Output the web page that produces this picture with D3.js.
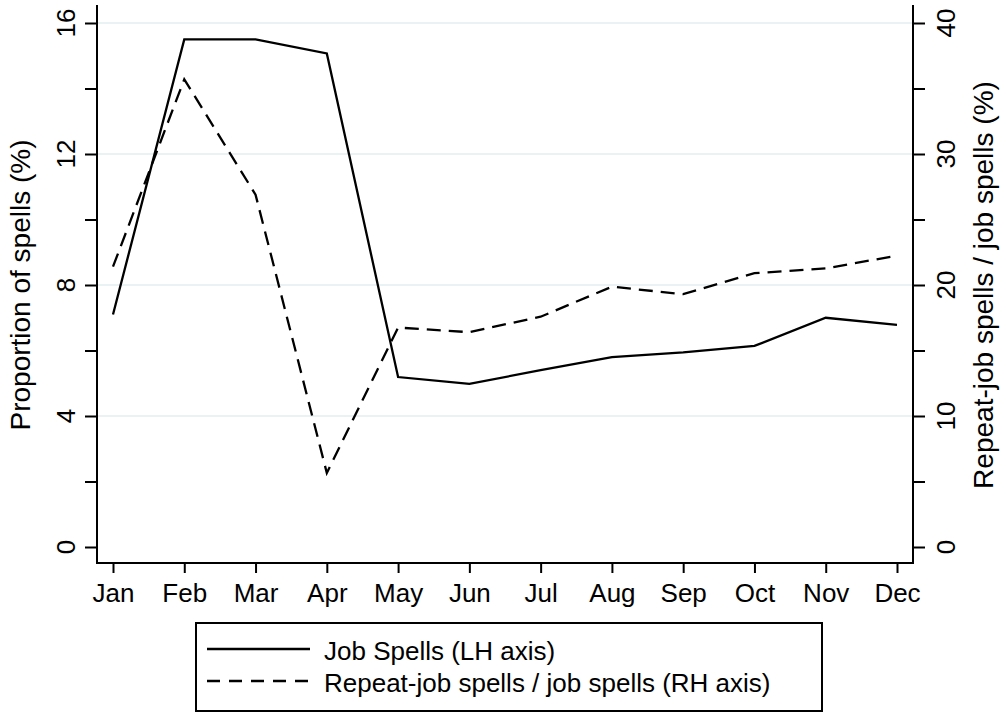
<!DOCTYPE html>
<html>
<head>
<meta charset="utf-8">
<script src="https://cdn.jsdelivr.net/npm/d3@7"></script>
<style>
  body { margin: 0; background: #fff; }
  text { font-family: "Liberation Sans", Arial, sans-serif; fill: #000; }
</style>
</head>
<body>
<div id="chart"></div>
<script>
// data
var months = ["Jan", "Feb", "Mar", "Apr", "May", "Jun", "Jul", "Aug", "Sep", "Oct", "Nov", "Dec"];
var jobSpells = [7.1, 15.5, 15.5, 15.07, 5.19, 4.98, 5.4, 5.8, 5.94, 6.14, 7.0, 6.78];
var repeatShare = [21.4, 35.7, 26.9, 5.65, 16.75, 16.4, 17.58, 19.87, 19.3, 20.9, 21.27, 22.24];
var leftTicks = [0, 4, 8, 12, 16];
var leftMinor = [2, 6, 10, 14];
var rightTicks = [0, 10, 20, 30, 40];
var rightMinor = [5, 15, 25, 35];
var gridTicks = [4, 8, 12, 16];

var svgWidth = 1006;
var svgHeight = 713;

// plot frame
var frame = { left: 97, right: 913, top: 5, bottom: 563 };

var svg = d3.select("#chart")
    .append("svg")
    .attr("width", svgWidth)
    .attr("height", svgHeight);

var x = d3.scalePoint()
    .domain(months)
    .range([113, 897]);

var yLeft = d3.scaleLinear()
    .domain([0, 16])
    .range([547, 23]);

var yRight = d3.scaleLinear()
    .domain([0, 40])
    .range([547, 23]);

var fontSize = 26;
var titleSize = 28;

// grid lines
svg.append("g")
    .selectAll("line")
    .data(gridTicks)
    .enter()
    .append("line")
    .attr("x1", frame.left)
    .attr("x2", frame.right)
    .attr("y1", d => yLeft(d))
    .attr("y2", d => yLeft(d))
    .attr("stroke", "#e4eef0")
    .attr("stroke-width", 1.6);

// left axis
var leftAxis = svg.append("g")
    .attr("transform", `translate(${frame.left}, 0)`)
    .call(d3.axisLeft(yLeft).tickValues(leftTicks.concat(leftMinor)).tickSize(12).tickFormat(""));
leftAxis.select(".domain").remove();
leftAxis.selectAll("line").attr("stroke", "#000").attr("stroke-width", 2);

svg.append("g")
    .selectAll("text")
    .data(leftTicks)
    .enter()
    .append("text")
    .attr("transform", d => `translate(75, ${yLeft(d)}) rotate(-90)`)
    .attr("text-anchor", "middle")
    .style("font-size", fontSize + "px")
    .text(d => d);

// right axis
var rightAxis = svg.append("g")
    .attr("transform", `translate(${frame.right}, 0)`)
    .call(d3.axisRight(yRight).tickValues(rightTicks.concat(rightMinor)).tickSize(12).tickFormat(""));
rightAxis.select(".domain").remove();
rightAxis.selectAll("line").attr("stroke", "#000").attr("stroke-width", 2);

svg.append("g")
    .selectAll("text")
    .data(rightTicks)
    .enter()
    .append("text")
    .attr("transform", d => `translate(955, ${yRight(d)}) rotate(-90)`)
    .attr("text-anchor", "middle")
    .style("font-size", fontSize + "px")
    .text(d => d);

// x axis
var bottomAxis = svg.append("g")
    .attr("transform", `translate(0, ${frame.bottom})`)
    .call(d3.axisBottom(x).tickSize(10).tickPadding(11));
bottomAxis.select(".domain").remove();
bottomAxis.selectAll("line").attr("stroke", "#000").attr("stroke-width", 2);
bottomAxis.selectAll("text")
    .style("font-size", fontSize + "px")
    .style("font-family", "'Liberation Sans', Arial, sans-serif")
    .attr("fill", "#000");

// axis lines
svg.append("line")
    .attr("x1", frame.left).attr("x2", frame.left)
    .attr("y1", frame.top).attr("y2", frame.bottom + 1)
    .attr("stroke", "#000").attr("stroke-width", 2);
svg.append("line")
    .attr("x1", frame.right).attr("x2", frame.right)
    .attr("y1", frame.top).attr("y2", frame.bottom + 1)
    .attr("stroke", "#000").attr("stroke-width", 2);
svg.append("line")
    .attr("x1", frame.left - 1).attr("x2", frame.right + 1)
    .attr("y1", frame.bottom).attr("y2", frame.bottom)
    .attr("stroke", "#000").attr("stroke-width", 2);

// axis titles
svg.append("text")
    .attr("transform", `translate(30, ${yLeft(8)}) rotate(-90)`)
    .attr("text-anchor", "middle")
    .style("font-size", titleSize + "px")
    .text("Proportion of spells (%)");

svg.append("text")
    .attr("transform", `translate(993, ${yRight(20)}) rotate(-90)`)
    .attr("text-anchor", "middle")
    .style("font-size", titleSize + "px")
    .text("Repeat-job spells / job spells (%)");

// lines
var solidLine = d3.line()
    .x((d, i) => x(months[i]))
    .y(d => yLeft(d));

var dashedLine = d3.line()
    .x((d, i) => x(months[i]))
    .y(d => yRight(d));

svg.append("path")
    .datum(jobSpells)
    .attr("d", solidLine)
    .attr("fill", "none")
    .attr("stroke", "#000")
    .attr("stroke-width", 2.3)
    .attr("stroke-linejoin", "miter");

svg.append("path")
    .datum(repeatShare)
    .attr("d", dashedLine)
    .attr("fill", "none")
    .attr("stroke", "#000")
    .attr("stroke-width", 2.3)
    .attr("stroke-dasharray", "14,8");

// legend
var legend = svg.append("g");
legend.append("rect")
    .attr("x", 196)
    .attr("y", 623)
    .attr("width", 626)
    .attr("height", 88)
    .attr("fill", "#fff")
    .attr("stroke", "#000")
    .attr("stroke-width", 2);

var legendItems = [
    { label: "Job Spells (LH axis)", dash: null, y: 649 },
    { label: "Repeat-job spells / job spells (RH axis)", dash: "13,9", y: 681 }
];

legendItems.forEach(function(item) {
    legend.append("line")
        .attr("x1", 207)
        .attr("x2", 310)
        .attr("y1", item.y)
        .attr("y2", item.y)
        .attr("stroke", "#000")
        .attr("stroke-width", 2.3)
        .attr("stroke-dasharray", item.dash);
    legend.append("text")
        .attr("x", 324)
        .attr("y", item.y + 11)
        .style("font-size", fontSize + "px")
        .text(item.label);
});
</script>
</body>
</html>
